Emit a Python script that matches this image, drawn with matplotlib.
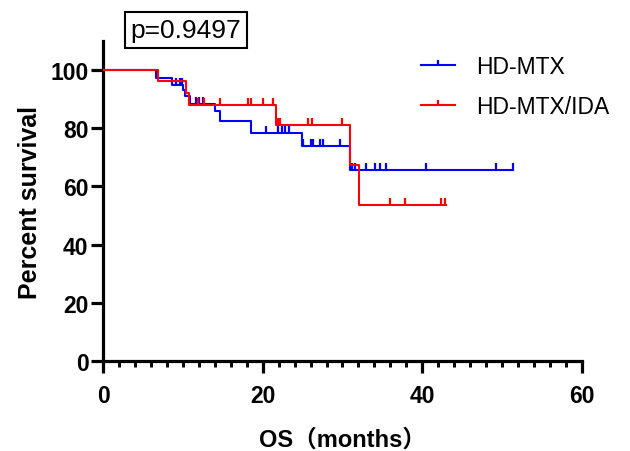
"""Kaplan-Meier overall survival: HD-MTX vs HD-MTX/IDA."""

import matplotlib
matplotlib.use("Agg")
import matplotlib.pyplot as plt
import numpy as np

# step curves (time in months, percent survival after the event)
mtx_t = [0, 6.7, 8.6, 10.0, 10.3, 10.9, 14.0, 14.7, 18.5, 24.9, 30.9, 51.3]
mtx_s = [100, 97.4, 95.0, 93.2, 91.0, 88.4, 85.9, 82.4, 78.3, 73.8, 65.5, 65.5]
mtx_cens = [9.2, 9.6, 9.9, 11.6, 12.0, 12.5, 20.4, 21.9, 22.4, 22.8, 23.3,
            25.1, 26.0, 26.3, 27.2, 27.6, 29.7, 31.2, 31.6, 33.0, 34.1,
            34.7, 35.5, 40.4, 49.2, 51.3]

ida_t = [0, 6.9, 10.4, 10.8, 21.7, 30.9, 32.1, 43.0]
ida_s = [100, 96.3, 92.1, 87.9, 81.0, 67.4, 53.8, 53.8]
ida_cens = [11.9, 12.7, 14.6, 18.1, 18.6, 20.0, 21.3, 21.9, 22.2, 25.7,
            26.2, 29.9, 35.9, 37.8, 42.4, 42.9]

labels = ["HD-MTX", "HD-MTX/IDA"]
colors = ["#0000ff", "#ff0000"]
p_text = "p=0.9497"

FONT = ["Liberation Sans", "Noto Sans CJK SC", "DejaVu Sans"]
plt.rcParams["font.family"] = FONT


def surv_at(times, surv, x):
    idx = np.searchsorted(times, x, side="right") - 1
    return np.asarray(surv)[idx]


fig = plt.figure(figsize=(6.3, 4.52), dpi=100)
ax = fig.add_axes([0.1635, 0.199, 0.7603, 0.708])

for t, s, c, lab, col in [(mtx_t, mtx_s, mtx_cens, labels[0], colors[0]),
                          (ida_t, ida_s, ida_cens, labels[1], colors[1])]:
    ax.step(t, s, where="post", color=col, linewidth=1.5, zorder=3)
    ax.plot(c, surv_at(t, s, c), linestyle="none", marker=2,
            markersize=5, markeredgewidth=1.6, color=col, zorder=3)
    ax.plot([], [], color=col, linewidth=1.5, marker=2, markersize=3.5,
            markeredgewidth=1.6, label=lab)

ax.set_xlim(0, 60)
ax.set_ylim(0, 110)
ax.set_xticks([0, 20, 40, 60])
ax.set_xticks(np.arange(0, 61, 2), minor=True)
ax.set_yticks([0, 20, 40, 60, 80, 100])

for side in ("top", "right"):
    ax.spines[side].set_visible(False)
for side in ("left", "bottom"):
    ax.spines[side].set_linewidth(2.3)

ax.tick_params(axis="both", which="major", length=8.5, width=2.3,
               labelsize=16.5, pad=2)
ax.tick_params(axis="x", which="major", pad=8)
ax.tick_params(axis="x", which="minor", length=4, width=2.1)
for lbl in ax.get_xticklabels() + ax.get_yticklabels():
    lbl.set_fontweight("bold")

ax.set_ylabel("Percent survival", fontsize=18, fontweight="bold", labelpad=6)
ax.set_xlabel("OS（months）", fontsize=17, fontweight="bold", labelpad=15)

fig.text(0.295, 0.931, p_text, fontsize=19, ha="center", va="center",
         bbox=dict(boxstyle="square,pad=0.22", facecolor="white",
                   edgecolor="black", linewidth=1.5))

ax.legend(loc="upper left", bbox_to_anchor=(0.636, 0.922),
          bbox_transform=fig.transFigure, frameon=False, fontsize=16.5,
          handlelength=1.48, handletextpad=0.9, labelspacing=0.75,
          numpoints=1)

fig.savefig("out.png", dpi=100)
